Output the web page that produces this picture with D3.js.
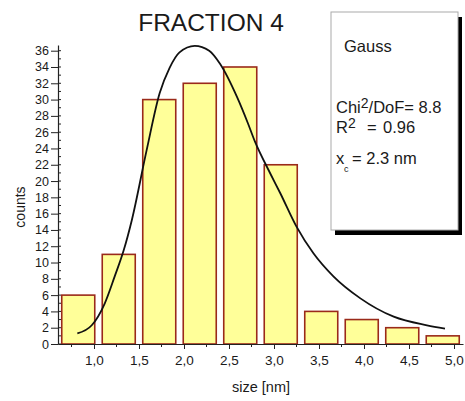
<!DOCTYPE html>
<html><head><meta charset="utf-8">
<script src="https://cdn.jsdelivr.net/npm/d3@7"></script>
<style>
body{margin:0;background:#fff;}
svg{display:block;font-family:"Liberation Sans",Arial,sans-serif;}
</style></head>
<body>
<svg id="c" width="465" height="401"></svg>
<script>
// ---- data ----
const binCenters = [0.825, 1.275, 1.725, 2.175, 2.625, 3.075, 3.525, 3.975, 4.425, 4.875];
const counts     = [6, 11, 30, 32, 34, 22, 4, 3, 2, 1];
const fitX = [0.815, 0.975, 1.12, 1.23, 1.33, 1.42, 1.585, 1.73, 1.84, 1.95, 2.12, 2.28, 2.4, 2.59, 2.71, 2.79, 2.96, 3.07, 3.25, 3.44, 3.66, 3.96, 4.33, 4.7, 4.9];
const fitY = [1.3, 2.3, 5.0, 8.3, 11.5, 15.2, 23.8, 30.8, 33.9, 35.8, 36.6, 36.0, 34.4, 30.3, 27.1, 24.8, 20.9, 18.5, 14.4, 11.1, 8.3, 5.6, 3.35, 2.3, 1.9];
const xMajorTicks = [1.0, 1.5, 2.0, 2.5, 3.0, 3.5, 4.0, 4.5, 5.0];
const xMinorTicks = [0.75, 1.25, 1.75, 2.25, 2.75, 3.25, 3.75, 4.25, 4.75];
const yMajorTicks = d3.range(0, 37, 2);
const yMinorTicks = d3.range(0, 37, 1);
const binWidth = 0.45;
const title = "FRACTION 4";
const xLabel = "size [nm]";
const yLabel = "counts";

// ---- layout ----
const svg = d3.select("#c");
const x = d3.scaleLinear().domain([0.6, 5.1]).range([58, 463]);
const y = d3.scaleLinear().domain([0, 36.7]).range([344, 45]);
const txt = "#1a1a1a";
const fmt = v => d3.format(".1f")(v).replace(".", ",");

// bars
const barFrac = 0.815;
svg.append("g").selectAll("rect").data(counts).join("rect")
  .attr("x", (d,i) => x(binCenters[i] - binWidth*barFrac/2))
  .attr("width", (d,i) => x(binCenters[i] + binWidth*barFrac/2) - x(binCenters[i] - binWidth*barFrac/2))
  .attr("y", d => y(d))
  .attr("height", d => y(0) - y(d))
  .attr("fill", "#ffff99")
  .attr("stroke", "#9a2a1a")
  .attr("stroke-width", 1.6);

// fit curve
const line = d3.line().x(d => x(d[0])).y(d => y(d[1])).curve(d3.curveMonotoneX);
svg.append("path").datum(fitX.map((v,i) => [v, fitY[i]]))
  .attr("d", line).attr("fill", "none").attr("stroke", "#111").attr("stroke-width", 1.8);

// x axis
const gx = svg.append("g").attr("transform", `translate(0,${y(0)})`)
  .call(d3.axisBottom(x).tickValues(xMajorTicks).tickSize(5).tickSizeOuter(0).tickFormat(fmt));
gx.select(".domain").attr("stroke", "#222").attr("stroke-width", 1.2);
gx.selectAll(".tick line").attr("stroke", "#222");
gx.selectAll(".tick text").attr("font-size", 13.5).attr("fill", txt).attr("y", 11)
  .attr("font-family", "'Liberation Sans',Arial,sans-serif");
gx.append("g").selectAll("line").data(xMinorTicks).join("line")
  .attr("x1", d => x(d)).attr("x2", d => x(d)).attr("y1", 0).attr("y2", 3)
  .attr("stroke", "#222");

// y axis
const gy = svg.append("g").attr("transform", `translate(${x(0.6)},0)`)
  .call(d3.axisLeft(y).tickValues(yMajorTicks).tickSize(7).tickSizeOuter(0).tickFormat(d3.format("d")));
gy.select(".domain").attr("stroke", "#222").attr("stroke-width", 1.2);
gy.selectAll(".tick line").attr("stroke", "#222");
gy.selectAll(".tick text").attr("font-size", 12.5).attr("fill", txt).attr("x", -9)
  .attr("font-family", "'Liberation Sans',Arial,sans-serif");
gy.append("g").selectAll("line").data(yMinorTicks).join("line")
  .attr("x1", 0).attr("x2", 3).attr("y1", d => y(d)).attr("y2", d => y(d))
  .attr("stroke", "#222");

// titles
svg.append("text").attr("x", 211).attr("y", 31).attr("text-anchor", "middle")
  .attr("font-size", 24.5).attr("fill", txt).text(title);
svg.append("text").attr("x", 261).attr("y", 392).attr("text-anchor", "middle")
  .attr("font-size", 14.5).attr("fill", txt).text(xLabel);
svg.append("text").attr("transform", "translate(25,207) rotate(-90)").attr("text-anchor", "middle")
  .attr("font-size", 14).attr("fill", txt).text(yLabel);

// legend box
const bx = 331, by = 12, bw = 127, bh = 218;
svg.append("rect").attr("x", bx+4).attr("y", by+5).attr("width", bw).attr("height", bh).attr("fill", "#000");
svg.append("rect").attr("x", bx).attr("y", by).attr("width", bw).attr("height", bh)
  .attr("fill", "#fff").attr("stroke", "#aaa").attr("stroke-width", 1);

const fs = 16.5;
svg.append("text").attr("x", 344).attr("y", 52).attr("font-size", fs).attr("fill", txt).text("Gauss");

const t1 = svg.append("text").attr("x", 336).attr("y", 113).attr("font-size", fs).attr("fill", txt);
t1.append("tspan").text("Chi");
t1.append("tspan").attr("dy", -5).attr("font-size", 14).text("2");
t1.append("tspan").attr("dy", 5).text("/DoF= 8.8");

const t2 = svg.append("text").attr("x", 336).attr("y", 133).attr("font-size", fs).attr("fill", txt);
t2.append("tspan").text("R");
t2.append("tspan").attr("dy", -5).attr("font-size", 14).text("2");
t2.append("tspan").attr("dy", 5).attr("x", 367).text("=");
t2.append("tspan").attr("x", 383).text("0.96");

const t3 = svg.append("text").attr("x", 336).attr("y", 164).attr("font-size", fs).attr("fill", txt);
t3.append("tspan").text("x");
t3.append("tspan").attr("dy", 8).attr("x", 344).attr("font-size", 9).text("c");
t3.append("tspan").attr("dy", -8).attr("x", 352).text("= 2.3 nm");
</script>
</body></html>
